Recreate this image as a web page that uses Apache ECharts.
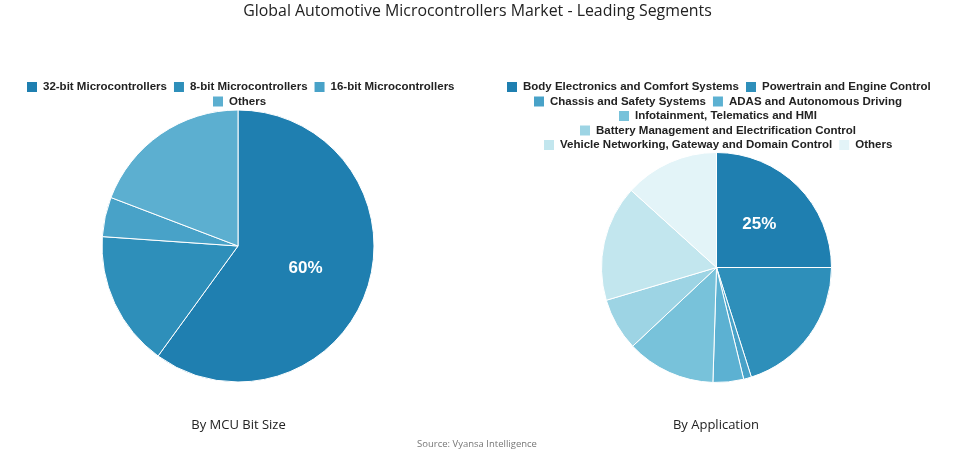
<!DOCTYPE html>
<html>
<head>
<meta charset="utf-8">
<script src="https://cdn.jsdelivr.net/npm/echarts@6/dist/echarts.min.js"></script>
<style>
html,body{margin:0;padding:0;background:#fff;}
#chart{width:955px;height:454px;}
</style>
</head>
<body>
<div id="chart"></div>
<script>
const bitCategories = ['32-bit Microcontrollers', '8-bit Microcontrollers', '16-bit Microcontrollers', 'Others'];
const bitValues = [60, 16.1, 4.7, 19.2];
const bitColors = ['#1f7fb0', '#2e8fba', '#48a2c8', '#5cafd0'];
const bitLegendRows = [[0, 1, 2], [3]];

const appCategories = ['Body Electronics and Comfort Systems', 'Powertrain and Engine Control', 'Chassis and Safety Systems', 'ADAS and Autonomous Driving', 'Infotainment, Telematics and HMI', 'Battery Management and Electrification Control', 'Vehicle Networking, Gateway and Domain Control', 'Others'];
const appValues = [25, 20.1, 1.1, 4.3, 12.5, 7.4, 16.3, 13.3];
const appColors = ['#1f7fb0', '#2e8fba', '#48a2c8', '#5cb1d2', '#78c2da', '#9dd4e4', '#c2e6ee', '#e3f4f8'];
const appLegendRows = [[0, 1], [2, 3], [4], [5], [6, 7]];

const chart = echarts.init(document.getElementById('chart'));

function pieData(names, values, colors) {
  return names.map((n, i) => ({ name: n, value: values[i], itemStyle: { color: colors[i] } }));
}
const legendFontFamily = 'Liberation Sans, Arial, sans-serif';
const legendFontSize = 11.5;
const legendText = { fontFamily: legendFontFamily, fontWeight: 'bold', fontSize: legendFontSize, color: '#222' };
const ICON = 12, TEXT_GAP = 5, ITEM_GAP = 5;

const measureCtx = document.createElement('canvas').getContext('2d');
measureCtx.font = 'bold ' + legendFontSize + 'px ' + legendFontFamily;
function textW(s) { return measureCtx.measureText(s).width; }

function centeredRows(rows, names, colors, cx, top0, step) {
  return rows.map((row, r) => {
    const w = row.reduce((acc, i) => acc + ICON + TEXT_GAP + textW(names[i]), 0) + ITEM_GAP * (row.length - 1);
    return {
      data: row.map(i => ({ name: names[i], itemStyle: { color: colors[i] } })),
      left: Math.round(cx - w / 2), top: top0 + r * step, itemWidth: ICON, itemHeight: ICON,
      itemGap: ITEM_GAP, padding: 0, icon: 'rect', textStyle: legendText, selectedMode: false
    };
  });
}

const insideLabel = {
  show: true, position: 'inside', color: '#fff', fontSize: 17, fontWeight: 'bold',
  fontFamily: 'Liberation Sans, Arial, sans-serif',
  formatter: p => p.dataIndex === 0 ? Math.round(p.value) + '%' : ''
};
const textFont = 'Open Sans, sans-serif';

const legends = centeredRows(bitLegendRows, bitCategories, bitColors, 238.5, 80, 14.5)
  .concat(centeredRows(appLegendRows, appCategories, appColors, 716.5, 80, 14.5));

chart.setOption({
  animation: false,
  title: { text: 'Global Automotive Microcontrollers Market - Leading Segments', left: 'center', top: 0, padding: [3, 0, 0, 0],
    textStyle: { fontFamily: textFont, fontWeight: 'normal', fontSize: 15.9, color: '#222' } },
  graphic: [
    { type: 'text', x: 238.5, y: 425, style: { text: 'By MCU Bit Size', textAlign: 'center', textVerticalAlign: 'middle', font: 'normal 13px ' + textFont, fill: '#222' } },
    { type: 'text', x: 716, y: 425, style: { text: 'By Application', textAlign: 'center', textVerticalAlign: 'middle', font: 'normal 13px ' + textFont, fill: '#222' } },
    { type: 'text', x: 477, y: 444, style: { text: 'Source: Vyansa Intelligence', textAlign: 'center', textVerticalAlign: 'middle', font: 'normal 9.5px ' + textFont, fill: '#777' } }
  ],
  legend: legends,
  series: [
    { type: 'pie', center: [238, 246], radius: [0, 136], startAngle: 90, clockwise: true,
      data: pieData(bitCategories, bitValues, bitColors),
      itemStyle: { borderColor: '#fff', borderWidth: 1 },
      label: insideLabel, labelLine: { show: false }, emphasis: { disabled: true } },
    { type: 'pie', center: [716.5, 267.5], radius: [0, 115], startAngle: 90, clockwise: true,
      data: pieData(appCategories, appValues, appColors),
      itemStyle: { borderColor: '#fff', borderWidth: 1 },
      label: insideLabel, labelLine: { show: false }, emphasis: { disabled: true } }
  ]
});
</script>
</body>
</html>
